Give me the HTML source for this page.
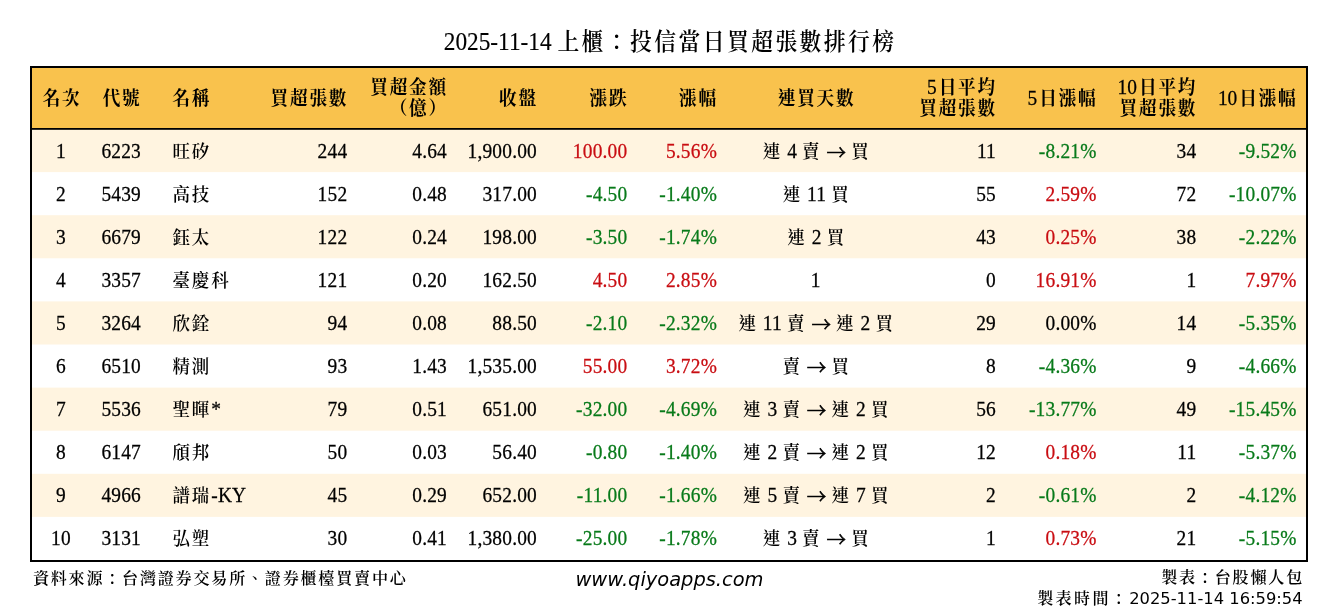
<!DOCTYPE html>
<html lang="zh-Hant">
<head>
<meta charset="utf-8">
<title>投信當日買超張數排行榜</title>
<style>
html,body{margin:0;padding:0;background:#fff;}
body{width:1338px;height:612px;overflow:hidden;}
svg{display:block;will-change:transform;}
text{font-family:"Liberation Serif","Noto Serif CJK SC","Noto Serif CJK TC",serif;fill:#000;stroke:#000;stroke-width:0.25px;}
.c,.ch,.ct,.cf,.s,.f{stroke:none;}
.d{font-size:19.4px;letter-spacing:.2px;}
.h{font-size:19.4px;font-weight:700;}
.t{font-size:23.3px;stroke-width:.15px;}
.f{font-size:17.85px;}
.c{font-family:"Noto Serif CJK SC","Noto Serif CJK TC","Liberation Serif",serif;font-size:17.46px;letter-spacing:1.94px;baseline-shift:0px;font-weight:600;}
.ct{font-family:"Noto Serif CJK SC","Noto Serif CJK TC","Liberation Serif",serif;font-size:21.82px;letter-spacing:2.42px;baseline-shift:0px;font-weight:600;}
.cf{font-family:"Noto Serif CJK SC","Noto Serif CJK TC","Liberation Serif",serif;font-size:16.07px;letter-spacing:1.78px;baseline-shift:0px;font-weight:600;}
.ch{font-family:"Noto Serif CJK SC","Noto Serif CJK TC","Liberation Serif",serif;font-size:17.65px;letter-spacing:1.75px;baseline-shift:0px;font-weight:700;}
.a{font-family:"Noto Serif CJK SC","Noto Serif CJK TC","Liberation Serif",serif;font-weight:700;stroke:#000;stroke-width:0.6px;baseline-shift:-2.1px;}
.r{fill:#c90d12;stroke:#c90d12;}
.g{fill:#087a1a;stroke:#087a1a;}
.s{font-family:"DejaVu Sans","Liberation Sans",sans-serif;}
.n{font-weight:normal;}
</style>
</head>
<body>
<svg width="1338" height="612" viewBox="0 0 1338 612">
<rect x="0" y="0" width="1338" height="612" fill="#ffffff"/>
<rect x="31" y="67" width="1276" height="62" fill="#f9c24d"/>
<rect x="31" y="129" width="1276" height="43.1" fill="#fff4e0"/>
<rect x="31" y="215.2" width="1276" height="43.1" fill="#fff4e0"/>
<rect x="31" y="301.4" width="1276" height="43.1" fill="#fff4e0"/>
<rect x="31" y="387.6" width="1276" height="43.1" fill="#fff4e0"/>
<rect x="31" y="473.8" width="1276" height="43.1" fill="#fff4e0"/>
<rect x="31" y="128.0" width="1276" height="1.8" fill="#000"/>
<rect x="31" y="67" width="1276" height="494" fill="none" stroke="#000" stroke-width="2"/>
<g transform="scale(1 1.07)">
<text class="t" x="670.16" y="46.73" text-anchor="middle">2025-11-14 <tspan class="ct">上櫃：投信當日買超張數排行榜</tspan></text>
<text class="h" x="61.87" y="98.13" text-anchor="middle"><tspan class="ch">名次</tspan></text>
<text class="h" x="122.07" y="98.13" text-anchor="middle"><tspan class="ch">代號</tspan></text>
<text class="h" x="172.37" y="98.13" text-anchor="start"><tspan class="ch">名稱</tspan></text>
<text class="h" x="348.17" y="98.13" text-anchor="end"><tspan class="ch">買超張數</tspan></text>
<text class="h" x="447.87" y="88.22" text-anchor="end"><tspan class="ch">買超金額</tspan></text>
<text class="h" x="447.87" y="107.66" text-anchor="end"><tspan class="ch">（億）</tspan></text>
<text class="h" x="537.87" y="98.13" text-anchor="end"><tspan class="ch">收盤</tspan></text>
<text class="h" x="628.27" y="98.13" text-anchor="end"><tspan class="ch">漲跌</tspan></text>
<text class="h" x="717.87" y="98.13" text-anchor="end"><tspan class="ch">漲幅</tspan></text>
<text class="h" x="816.57" y="98.13" text-anchor="middle"><tspan class="ch">連買天數</tspan></text>
<text class="h" x="996.87" y="88.22" text-anchor="end"><tspan class="n">5</tspan><tspan class="ch" dx="2">日平均</tspan></text>
<text class="h" x="996.87" y="107.66" text-anchor="end"><tspan class="ch">買超張數</tspan></text>
<text class="h" x="1097.47" y="98.13" text-anchor="end"><tspan class="n">5</tspan><tspan class="ch" dx="2">日漲幅</tspan></text>
<text class="h" x="1197.17" y="88.22" text-anchor="end"><tspan class="n">10</tspan><tspan class="ch" dx="2">日平均</tspan></text>
<text class="h" x="1197.17" y="107.66" text-anchor="end"><tspan class="ch">買超張數</tspan></text>
<text class="h" x="1297.47" y="98.13" text-anchor="end"><tspan class="n">10</tspan><tspan class="ch" dx="2">日漲幅</tspan></text>
<text class="d" x="61" y="147.2" text-anchor="middle">1</text>
<text class="d" x="121.2" y="147.2" text-anchor="middle">6223</text>
<text class="d" x="172.47" y="147.2" text-anchor="start"><tspan class="c">旺矽</tspan></text>
<text class="d" x="347.3" y="147.2" text-anchor="end">244</text>
<text class="d" x="447" y="147.2" text-anchor="end">4.64</text>
<text class="d" x="537" y="147.2" text-anchor="end">1,900.00</text>
<text class="d r" x="627.4" y="147.2" text-anchor="end">100.00</text>
<text class="d r" x="717" y="147.2" text-anchor="end">5.56%</text>
<text class="d" x="816.67" y="147.2" text-anchor="middle"><tspan class="c">連</tspan> 4 <tspan class="c">賣</tspan> <tspan class="a">→</tspan> <tspan class="c">買</tspan></text>
<text class="d" x="996" y="147.2" text-anchor="end">11</text>
<text class="d g" x="1096.6" y="147.2" text-anchor="end">-8.21%</text>
<text class="d" x="1196.3" y="147.2" text-anchor="end">34</text>
<text class="d g" x="1296.6" y="147.2" text-anchor="end">-9.52%</text>
<text class="d" x="61" y="187.48" text-anchor="middle">2</text>
<text class="d" x="121.2" y="187.48" text-anchor="middle">5439</text>
<text class="d" x="172.47" y="187.48" text-anchor="start"><tspan class="c">高技</tspan></text>
<text class="d" x="347.3" y="187.48" text-anchor="end">152</text>
<text class="d" x="447" y="187.48" text-anchor="end">0.48</text>
<text class="d" x="537" y="187.48" text-anchor="end">317.00</text>
<text class="d g" x="627.4" y="187.48" text-anchor="end">-4.50</text>
<text class="d g" x="717" y="187.48" text-anchor="end">-1.40%</text>
<text class="d" x="816.67" y="187.48" text-anchor="middle"><tspan class="c">連</tspan> 11 <tspan class="c">買</tspan></text>
<text class="d" x="996" y="187.48" text-anchor="end">55</text>
<text class="d r" x="1096.6" y="187.48" text-anchor="end">2.59%</text>
<text class="d" x="1196.3" y="187.48" text-anchor="end">72</text>
<text class="d g" x="1296.6" y="187.48" text-anchor="end">-10.07%</text>
<text class="d" x="61" y="227.76" text-anchor="middle">3</text>
<text class="d" x="121.2" y="227.76" text-anchor="middle">6679</text>
<text class="d" x="172.47" y="227.76" text-anchor="start"><tspan class="c">鈺太</tspan></text>
<text class="d" x="347.3" y="227.76" text-anchor="end">122</text>
<text class="d" x="447" y="227.76" text-anchor="end">0.24</text>
<text class="d" x="537" y="227.76" text-anchor="end">198.00</text>
<text class="d g" x="627.4" y="227.76" text-anchor="end">-3.50</text>
<text class="d g" x="717" y="227.76" text-anchor="end">-1.74%</text>
<text class="d" x="816.67" y="227.76" text-anchor="middle"><tspan class="c">連</tspan> 2 <tspan class="c">買</tspan></text>
<text class="d" x="996" y="227.76" text-anchor="end">43</text>
<text class="d r" x="1096.6" y="227.76" text-anchor="end">0.25%</text>
<text class="d" x="1196.3" y="227.76" text-anchor="end">38</text>
<text class="d g" x="1296.6" y="227.76" text-anchor="end">-2.22%</text>
<text class="d" x="61" y="268.04" text-anchor="middle">4</text>
<text class="d" x="121.2" y="268.04" text-anchor="middle">3357</text>
<text class="d" x="172.47" y="268.04" text-anchor="start"><tspan class="c">臺慶科</tspan></text>
<text class="d" x="347.3" y="268.04" text-anchor="end">121</text>
<text class="d" x="447" y="268.04" text-anchor="end">0.20</text>
<text class="d" x="537" y="268.04" text-anchor="end">162.50</text>
<text class="d r" x="627.4" y="268.04" text-anchor="end">4.50</text>
<text class="d r" x="717" y="268.04" text-anchor="end">2.85%</text>
<text class="d" x="815.7" y="268.04" text-anchor="middle">1</text>
<text class="d" x="996" y="268.04" text-anchor="end">0</text>
<text class="d r" x="1096.6" y="268.04" text-anchor="end">16.91%</text>
<text class="d" x="1196.3" y="268.04" text-anchor="end">1</text>
<text class="d r" x="1296.6" y="268.04" text-anchor="end">7.97%</text>
<text class="d" x="61" y="308.32" text-anchor="middle">5</text>
<text class="d" x="121.2" y="308.32" text-anchor="middle">3264</text>
<text class="d" x="172.47" y="308.32" text-anchor="start"><tspan class="c">欣銓</tspan></text>
<text class="d" x="347.3" y="308.32" text-anchor="end">94</text>
<text class="d" x="447" y="308.32" text-anchor="end">0.08</text>
<text class="d" x="537" y="308.32" text-anchor="end">88.50</text>
<text class="d g" x="627.4" y="308.32" text-anchor="end">-2.10</text>
<text class="d g" x="717" y="308.32" text-anchor="end">-2.32%</text>
<text class="d" x="816.67" y="308.32" text-anchor="middle"><tspan class="c">連</tspan> 11 <tspan class="c">賣</tspan> <tspan class="a">→</tspan> <tspan class="c">連</tspan> 2 <tspan class="c">買</tspan></text>
<text class="d" x="996" y="308.32" text-anchor="end">29</text>
<text class="d" x="1096.6" y="308.32" text-anchor="end">0.00%</text>
<text class="d" x="1196.3" y="308.32" text-anchor="end">14</text>
<text class="d g" x="1296.6" y="308.32" text-anchor="end">-5.35%</text>
<text class="d" x="61" y="348.6" text-anchor="middle">6</text>
<text class="d" x="121.2" y="348.6" text-anchor="middle">6510</text>
<text class="d" x="172.47" y="348.6" text-anchor="start"><tspan class="c">精測</tspan></text>
<text class="d" x="347.3" y="348.6" text-anchor="end">93</text>
<text class="d" x="447" y="348.6" text-anchor="end">1.43</text>
<text class="d" x="537" y="348.6" text-anchor="end">1,535.00</text>
<text class="d r" x="627.4" y="348.6" text-anchor="end">55.00</text>
<text class="d r" x="717" y="348.6" text-anchor="end">3.72%</text>
<text class="d" x="816.67" y="348.6" text-anchor="middle"><tspan class="c">賣</tspan> <tspan class="a">→</tspan> <tspan class="c">買</tspan></text>
<text class="d" x="996" y="348.6" text-anchor="end">8</text>
<text class="d g" x="1096.6" y="348.6" text-anchor="end">-4.36%</text>
<text class="d" x="1196.3" y="348.6" text-anchor="end">9</text>
<text class="d g" x="1296.6" y="348.6" text-anchor="end">-4.66%</text>
<text class="d" x="61" y="388.88" text-anchor="middle">7</text>
<text class="d" x="121.2" y="388.88" text-anchor="middle">5536</text>
<text class="d" x="172.47" y="388.88" text-anchor="start"><tspan class="c">聖暉</tspan>*</text>
<text class="d" x="347.3" y="388.88" text-anchor="end">79</text>
<text class="d" x="447" y="388.88" text-anchor="end">0.51</text>
<text class="d" x="537" y="388.88" text-anchor="end">651.00</text>
<text class="d g" x="627.4" y="388.88" text-anchor="end">-32.00</text>
<text class="d g" x="717" y="388.88" text-anchor="end">-4.69%</text>
<text class="d" x="816.67" y="388.88" text-anchor="middle"><tspan class="c">連</tspan> 3 <tspan class="c">賣</tspan> <tspan class="a">→</tspan> <tspan class="c">連</tspan> 2 <tspan class="c">買</tspan></text>
<text class="d" x="996" y="388.88" text-anchor="end">56</text>
<text class="d g" x="1096.6" y="388.88" text-anchor="end">-13.77%</text>
<text class="d" x="1196.3" y="388.88" text-anchor="end">49</text>
<text class="d g" x="1296.6" y="388.88" text-anchor="end">-15.45%</text>
<text class="d" x="61" y="429.16" text-anchor="middle">8</text>
<text class="d" x="121.2" y="429.16" text-anchor="middle">6147</text>
<text class="d" x="172.47" y="429.16" text-anchor="start"><tspan class="c">頎邦</tspan></text>
<text class="d" x="347.3" y="429.16" text-anchor="end">50</text>
<text class="d" x="447" y="429.16" text-anchor="end">0.03</text>
<text class="d" x="537" y="429.16" text-anchor="end">56.40</text>
<text class="d g" x="627.4" y="429.16" text-anchor="end">-0.80</text>
<text class="d g" x="717" y="429.16" text-anchor="end">-1.40%</text>
<text class="d" x="816.67" y="429.16" text-anchor="middle"><tspan class="c">連</tspan> 2 <tspan class="c">賣</tspan> <tspan class="a">→</tspan> <tspan class="c">連</tspan> 2 <tspan class="c">買</tspan></text>
<text class="d" x="996" y="429.16" text-anchor="end">12</text>
<text class="d r" x="1096.6" y="429.16" text-anchor="end">0.18%</text>
<text class="d" x="1196.3" y="429.16" text-anchor="end">11</text>
<text class="d g" x="1296.6" y="429.16" text-anchor="end">-5.37%</text>
<text class="d" x="61" y="469.44" text-anchor="middle">9</text>
<text class="d" x="121.2" y="469.44" text-anchor="middle">4966</text>
<text class="d" x="172.47" y="469.44" text-anchor="start"><tspan class="c">譜瑞</tspan>-KY</text>
<text class="d" x="347.3" y="469.44" text-anchor="end">45</text>
<text class="d" x="447" y="469.44" text-anchor="end">0.29</text>
<text class="d" x="537" y="469.44" text-anchor="end">652.00</text>
<text class="d g" x="627.4" y="469.44" text-anchor="end">-11.00</text>
<text class="d g" x="717" y="469.44" text-anchor="end">-1.66%</text>
<text class="d" x="816.67" y="469.44" text-anchor="middle"><tspan class="c">連</tspan> 5 <tspan class="c">賣</tspan> <tspan class="a">→</tspan> <tspan class="c">連</tspan> 7 <tspan class="c">買</tspan></text>
<text class="d" x="996" y="469.44" text-anchor="end">2</text>
<text class="d g" x="1096.6" y="469.44" text-anchor="end">-0.61%</text>
<text class="d" x="1196.3" y="469.44" text-anchor="end">2</text>
<text class="d g" x="1296.6" y="469.44" text-anchor="end">-4.12%</text>
<text class="d" x="61" y="509.72" text-anchor="middle">10</text>
<text class="d" x="121.2" y="509.72" text-anchor="middle">3131</text>
<text class="d" x="172.47" y="509.72" text-anchor="start"><tspan class="c">弘塑</tspan></text>
<text class="d" x="347.3" y="509.72" text-anchor="end">30</text>
<text class="d" x="447" y="509.72" text-anchor="end">0.41</text>
<text class="d" x="537" y="509.72" text-anchor="end">1,380.00</text>
<text class="d g" x="627.4" y="509.72" text-anchor="end">-25.00</text>
<text class="d g" x="717" y="509.72" text-anchor="end">-1.78%</text>
<text class="d" x="816.67" y="509.72" text-anchor="middle"><tspan class="c">連</tspan> 3 <tspan class="c">賣</tspan> <tspan class="a">→</tspan> <tspan class="c">買</tspan></text>
<text class="d" x="996" y="509.72" text-anchor="end">1</text>
<text class="d r" x="1096.6" y="509.72" text-anchor="end">0.73%</text>
<text class="d" x="1196.3" y="509.72" text-anchor="end">21</text>
<text class="d g" x="1296.6" y="509.72" text-anchor="end">-5.15%</text>
</g>
<text class="f" x="32.89" y="584" text-anchor="start"><tspan class="cf">資料來源：台灣證券交易所、證券櫃檯買賣中心</tspan></text>
<text class="s" x="669.5" y="586.3" text-anchor="middle" font-size="19.43" font-style="italic">www.qiyoapps.com</text>
<text class="f" x="1303.99" y="583" text-anchor="end"><tspan class="cf">製表：台股懶人包</tspan></text>
<text class="f" x="1302.6" y="604.2" text-anchor="end"><tspan class="cf" style="letter-spacing:2.33px">製表時間：</tspan><tspan class="s" font-size="16.33">2025-11-14 16:59:54</tspan></text>
</svg>
</body>
</html>
